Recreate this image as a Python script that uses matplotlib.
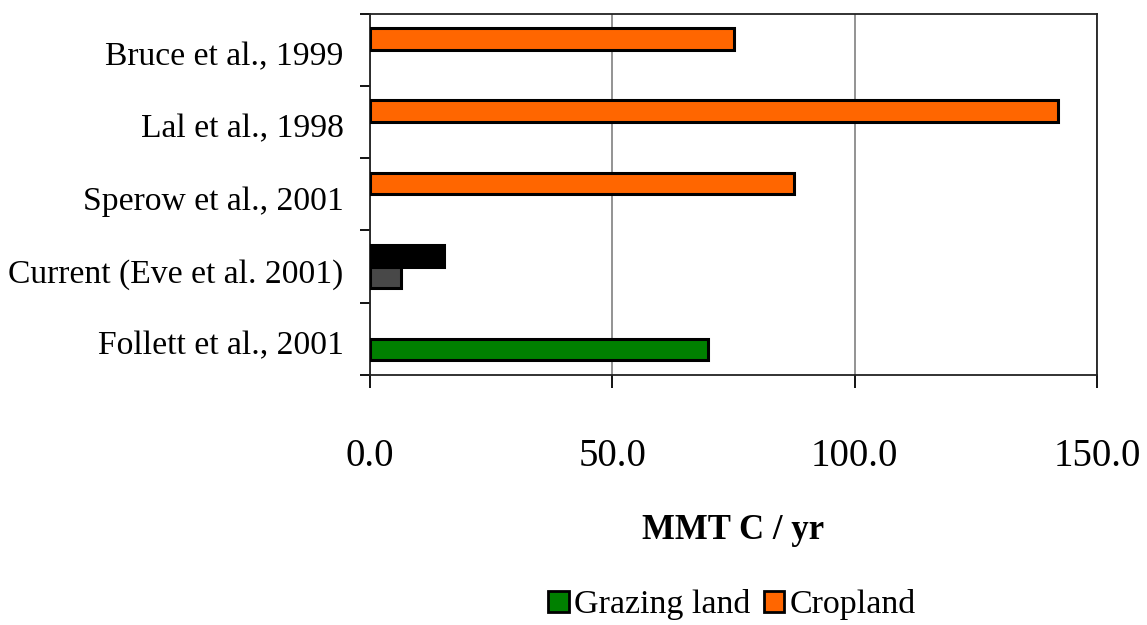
import numpy as np
import matplotlib
matplotlib.use("Agg")
import matplotlib.pyplot as plt
from matplotlib.patches import Patch
from matplotlib.transforms import ScaledTranslation

plt.rcParams['font.family'] = ['Liberation Serif', 'DejaVu Serif']

# данные (снизу вверх)
studies = ["Follett et al., 2001", "Current (Eve et al. 2001)", "Sperow et al., 2001",
           "Lal et al., 1998", "Bruce et al., 1999"]
grazing = np.array([69.8, 6.3, 0.0, 0.0, 0.0])
cropland = np.array([0.0, 15.3, 87.5, 142.0, 75.2])
grazing_colors = ["#008000", "#484848", "#008000", "#008000", "#008000"]
cropland_colors = ["#FF6600", "#000000", "#FF6600", "#FF6600", "#FF6600"]
x_ticks = [0, 50, 100, 150]

fig = plt.figure(figsize=(11.47, 6.25), dpi=100)
ax = fig.add_axes([370 / 1147, 1 - 375 / 625, 727 / 1147, (375 - 13.5) / 625])

y = np.arange(len(studies))
h = 0.297

m = grazing > 0
ax.barh(y[m] - h / 2, grazing[m], height=h, color=np.array(grazing_colors)[m],
        edgecolor="black", linewidth=2.2, zorder=3)
m = cropland > 0
ax.barh(y[m] + h / 2, cropland[m], height=h, color=np.array(cropland_colors)[m],
        edgecolor="black", linewidth=2.2, zorder=3)

ax.set_xlim(0, 150)
ax.set_ylim(-0.5, len(studies) - 0.5)

ax.set_xticks(x_ticks)
ax.set_xticklabels([f"{v:.1f}" for v in x_ticks], fontsize=28)
ax.tick_params(axis="x", direction="out", length=9.4, width=1.3, pad=36)
ax.xaxis.grid(True, color="#808080", linewidth=1.2, zorder=0)

# деления между категориями, подписи по центрам
ax.set_yticks(np.arange(-0.5, len(studies), 1.0))
ax.set_yticklabels([])
ax.set_yticks(y, minor=True)
ax.set_yticklabels(studies, minor=True, fontsize=24.2)
ax.tick_params(axis="y", which="major", direction="out", length=7.2, width=1.3)
ax.tick_params(axis="y", which="minor", length=0, pad=19)
# подписи чуть ниже центра, как в оригинале
shift = ScaledTranslation(0, -4 / 100, fig.dpi_scale_trans)
for lbl in ax.get_yticklabels(minor=True):
    lbl.set_transform(lbl.get_transform() + shift)

for s in ax.spines.values():
    s.set_linewidth(1.3)
    s.set_color("#222222")

ax.set_xlabel("MMT C / yr", fontsize=25, fontweight="bold", labelpad=28)

handles = [Patch(facecolor="#008000", edgecolor="black", linewidth=2, label="Grazing land"),
           Patch(facecolor="#FF6600", edgecolor="black", linewidth=2, label="Cropland")]
fig.legend(handles=handles, loc="center", bbox_to_anchor=(0.638, 0.032), ncol=2,
           frameon=False, fontsize=24.5, handlelength=0.6, handleheight=0.6,
           handletextpad=0.15, columnspacing=0.4, borderpad=0.1)

fig.savefig("out.png", dpi=100)
